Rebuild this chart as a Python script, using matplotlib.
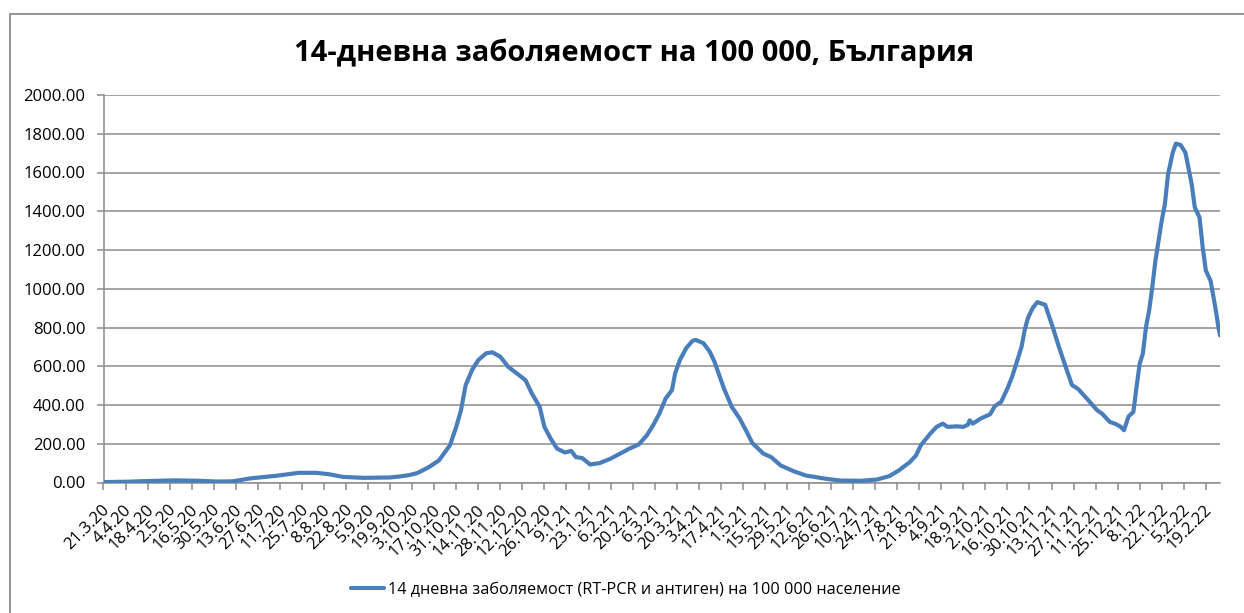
import matplotlib
matplotlib.use("Agg")
import matplotlib.pyplot as plt
import pandas as pd
from matplotlib.transforms import ScaledTranslation
from matplotlib.patches import Rectangle

# ---------------- data ----------------
dates = [
    "2020-03-21", "2020-04-05", "2020-04-20", "2020-05-05", "2020-05-20", "2020-06-01",
    "2020-06-11", "2020-06-22", "2020-07-09", "2020-07-23", "2020-08-03", "2020-08-11",
    "2020-08-20", "2020-09-02", "2020-09-12", "2020-09-19", "2020-09-25", "2020-10-01",
    "2020-10-06", "2020-10-10", "2020-10-14", "2020-10-20", "2020-10-27", "2020-10-31",
    "2020-11-03", "2020-11-06", "2020-11-10", "2020-11-14", "2020-11-19", "2020-11-23",
    "2020-11-28", "2020-12-03", "2020-12-08", "2020-12-14", "2020-12-18", "2020-12-23",
    "2020-12-26", "2020-12-30", "2021-01-03", "2021-01-08", "2021-01-12", "2021-01-15",
    "2021-01-19", "2021-01-24", "2021-01-30", "2021-02-06", "2021-02-12", "2021-02-18",
    "2021-02-24", "2021-03-01", "2021-03-05", "2021-03-09", "2021-03-13", "2021-03-17",
    "2021-03-19", "2021-03-22", "2021-03-26", "2021-03-30", "2021-04-01", "2021-04-06",
    "2021-04-10", "2021-04-13", "2021-04-16", "2021-04-19", "2021-04-24", "2021-04-29",
    "2021-05-03", "2021-05-07", "2021-05-14", "2021-05-19", "2021-05-25", "2021-06-02",
    "2021-06-10", "2021-06-17", "2021-06-23", "2021-07-02", "2021-07-15", "2021-07-25",
    "2021-08-02", "2021-08-08", "2021-08-15", "2021-08-19", "2021-08-22", "2021-08-28",
    "2021-09-01", "2021-09-05", "2021-09-08", "2021-09-14", "2021-09-18", "2021-09-21",
    "2021-09-22", "2021-09-24", "2021-09-29", "2021-10-05", "2021-10-08", "2021-10-12",
    "2021-10-16", "2021-10-19", "2021-10-21", "2021-10-25", "2021-10-27", "2021-10-29",
    "2021-11-01", "2021-11-04", "2021-11-09", "2021-11-14", "2021-11-18", "2021-11-22",
    "2021-11-26", "2021-11-30", "2021-12-05", "2021-12-09", "2021-12-12", "2021-12-15",
    "2021-12-20", "2021-12-24", "2021-12-27", "2021-12-29", "2022-01-01", "2022-01-04",
    "2022-01-06", "2022-01-08", "2022-01-10", "2022-01-12", "2022-01-14", "2022-01-16",
    "2022-01-18", "2022-01-20", "2022-01-22", "2022-01-24", "2022-01-26", "2022-01-29",
    "2022-01-31", "2022-02-03", "2022-02-06", "2022-02-07", "2022-02-10", "2022-02-12",
    "2022-02-15", "2022-02-17", "2022-02-19", "2022-02-22", "2022-02-25", "2022-02-27",
    "2022-02-28",
]
incidence = [
    2, 4, 8, 11, 9, 5,
    6, 21, 35, 50, 50, 43,
    29, 24, 25, 26, 31, 38,
    48, 64, 81, 114, 192, 287,
    373, 503, 580, 632, 667, 672,
    649, 597, 566, 528, 460, 390,
    287, 226, 175, 155, 163, 131,
    126, 93, 100, 123, 149, 175,
    197, 243, 295, 356, 434, 477,
    563, 632, 693, 731, 736, 719,
    675, 623, 554, 485, 390, 330,
    269, 204, 149, 131, 88, 59,
    36, 27, 19, 10, 9, 15,
    33, 62, 105, 140, 192, 252,
    287, 304, 287, 290, 287, 299,
    321, 304, 330, 352, 394, 416,
    485, 546, 597, 701, 788, 848,
    900, 931, 917, 796, 693, 597,
    503, 482, 437, 400, 373, 356,
    313, 301, 287, 270, 342, 364,
    493, 613, 665, 802, 888, 1008,
    1145, 1248, 1351, 1437, 1591, 1703,
    1749, 1742, 1703, 1664, 1540, 1420,
    1368, 1214, 1094, 1042, 905, 802,
    759,
]
tick_labels = [
    "21.3.20", "4.4.20", "18.4.20", "2.5.20", "16.5.20", "30.5.20", "13.6.20",
    "27.6.20", "11.7.20", "25.7.20", "8.8.20", "22.8.20", "5.9.20", "19.9.20",
    "3.10.20", "17.10.20", "31.10.20", "14.11.20", "28.11.20", "12.12.20", "26.12.20",
    "9.1.21", "23.1.21", "6.2.21", "20.2.21", "6.3.21", "20.3.21", "3.4.21",
    "17.4.21", "1.5.21", "15.5.21", "29.5.21", "12.6.21", "26.6.21", "10.7.21",
    "24.7.21", "7.8.21", "21.8.21", "4.9.21", "18.9.21", "2.10.21", "16.10.21",
    "30.10.21", "13.11.21", "27.11.21", "11.12.21", "25.12.21", "8.1.22", "22.1.22",
    "5.2.22", "19.2.22",
]
y_ticks = [0, 200, 400, 600, 800, 1000, 1200, 1400, 1600, 1800, 2000]
title = "14-дневна заболяемост на 100 000, България"
series_label = "14 дневна заболяемост (RT-PCR и антиген) на 100 000 население"

# ---------------- style ----------------
plt.rcParams["font.family"] = ["Open Sans", "DejaVu Sans"]
LINE = "#4a7ebb"
GRID = "#8c8c8c"
W, H = 1244, 613

fig = plt.figure(figsize=(W / 100, H / 100), dpi=100)
fig.patch.set_facecolor("white")

# chart border (Excel chart area)
fig.patches.append(Rectangle((10 / W, -0.2), 1.2, 1 - 14 / H + 0.2,
                             transform=fig.transFigure, fill=False,
                             edgecolor="#8a8a8a", lw=1.3))

left, right, top, bottom = 103.5, 1220, 95, 482.5
ax = fig.add_axes([left / W, 1 - bottom / H, (right - left) / W, (bottom - top) / H])

x = pd.to_datetime(dates)
ax.plot(x, incidence, color=LINE, lw=3.0, solid_joinstyle="round",
        solid_capstyle="round", label=series_label, zorder=3)

ax.set_xlim(pd.Timestamp("2020-03-21"), pd.Timestamp("2022-02-28"))
ax.set_ylim(0, 2000)

ax.set_yticks(y_ticks)
ax.set_yticklabels([f"{v:.2f}" for v in y_ticks])
ax.grid(axis="y", color=GRID, lw=1.1)
ax.set_axisbelow(True)

for s in ("top", "right"):
    ax.spines[s].set_visible(False)
for s in ("left", "bottom"):
    ax.spines[s].set_color(GRID)
    ax.spines[s].set_linewidth(1.1)

tick_pos = pd.to_datetime(tick_labels, format="%d.%m.%y")
ax.set_xticks(tick_pos)
ax.set_xticklabels(tick_labels, rotation=45, ha="right", va="center",
                   rotation_mode="anchor")
ax.tick_params(axis="x", length=5, width=1.1, color=GRID, pad=13,
               labelsize=12, labelcolor="black")
ax.tick_params(axis="y", length=5, width=1.1, color=GRID, pad=8,
               labelsize=12, labelcolor="black")
for lbl in ax.get_xticklabels():
    lbl.set_transform(lbl.get_transform() + ScaledTranslation(4 / 100, 0, fig.dpi_scale_trans))

fig.text(634.5 / W, 1 - 61 / H, title, ha="center", va="baseline",
         fontsize=21, fontweight="bold")

fig.legend(loc="center", bbox_to_anchor=(626 / W, 1 - 590 / H), frameon=False,
           fontsize=11.7, handlelength=2.0, handletextpad=0.25)

fig.savefig("out.png", dpi=100, facecolor="white")
